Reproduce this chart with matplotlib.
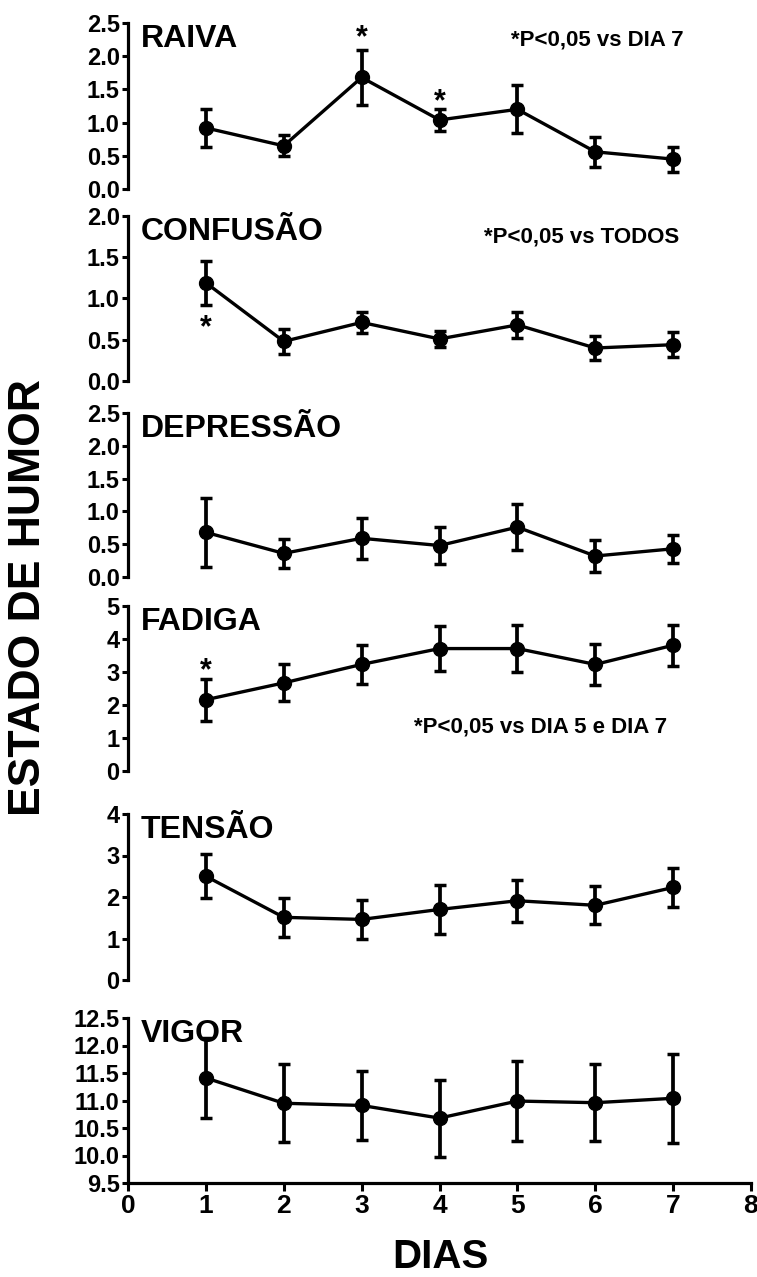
import matplotlib
matplotlib.use('Agg')
import matplotlib.pyplot as plt

plt.rcParams['font.family'] = ['Liberation Sans', 'DejaVu Sans']
plt.rcParams['font.weight'] = 'bold'

days = [1, 2, 3, 4, 5, 6, 7]

raiva = [0.92, 0.65, 1.68, 1.04, 1.20, 0.56, 0.45]
raiva_err = [0.29, 0.16, 0.42, 0.17, 0.36, 0.23, 0.19]
confusao = [1.19, 0.48, 0.71, 0.51, 0.68, 0.40, 0.44]
confusao_err = [0.27, 0.15, 0.13, 0.10, 0.16, 0.15, 0.15]
depressao = [0.68, 0.36, 0.59, 0.48, 0.76, 0.32, 0.43]
depressao_err = [0.53, 0.22, 0.31, 0.28, 0.35, 0.25, 0.21]
fadiga = [2.16, 2.67, 3.23, 3.71, 3.71, 3.23, 3.81]
fadiga_err = [0.63, 0.56, 0.59, 0.68, 0.71, 0.63, 0.62]
tensao = [2.50, 1.51, 1.46, 1.70, 1.91, 1.80, 2.23]
tensao_err = [0.53, 0.47, 0.47, 0.59, 0.51, 0.46, 0.46]
vigor = [11.41, 10.95, 10.91, 10.68, 10.99, 10.96, 11.04]
vigor_err = [0.72, 0.71, 0.63, 0.70, 0.72, 0.70, 0.81]

titles = ['RAIVA', 'CONFUSÃO', 'DEPRESSÃO', 'FADIGA', 'TENSÃO', 'VIGOR']
means = [raiva, confusao, depressao, fadiga, tensao, vigor]
errs = [raiva_err, confusao_err, depressao_err, fadiga_err, tensao_err, vigor_err]
yticks = [
    [0.0, 0.5, 1.0, 1.5, 2.0, 2.5],
    [0.0, 0.5, 1.0, 1.5, 2.0],
    [0.0, 0.5, 1.0, 1.5, 2.0, 2.5],
    [0, 1, 2, 3, 4, 5],
    [0, 1, 2, 3, 4],
    [9.5, 10.0, 10.5, 11.0, 11.5, 12.0, 12.5],
]
ytick_fmt = ['%.1f', '%.1f', '%.1f', '%d', '%d', '%.1f']
xticks = [0, 1, 2, 3, 4, 5, 6, 7, 8]

# significance stars: (panel, day, y)
stars = [(0, 3, 2.40), (0, 4, 1.43), (1, 1, 0.74), (3, 1, 3.30)]

fig = plt.figure(figsize=(7.57, 12.77), dpi=100)

# panel extents in pixels (top, bottom)
panel_px = [(23, 189), (216, 381), (413, 577), (606, 771), (814, 980), (1018, 1183)]
W, H = 757.0, 1277.0
left = 128 / W
width = (751 - 128) / W

axes = []
for i in range(6):
    top, bot = panel_px[i]
    ax = fig.add_axes([left, 1 - bot / H, width, (bot - top) / H])
    axes.append(ax)
    ax.errorbar(days, means[i], yerr=errs[i], color='black', lw=2.4,
                marker='o', ms=10, elinewidth=2.7, capsize=4.6, capthick=2.5,
                clip_on=False, zorder=3)
    ax.set_xlim(0, 8)
    ax.set_ylim(yticks[i][0], yticks[i][-1])
    ax.set_yticks(yticks[i])
    ax.set_yticklabels([ytick_fmt[i] % v for v in yticks[i]])
    for s in ['top', 'right']:
        ax.spines[s].set_visible(False)
    ax.spines['left'].set_linewidth(2.3)
    ax.tick_params(axis='y', direction='out', length=4.5, width=2.2, pad=1.5,
                   labelsize=17)
    ax.patch.set_alpha(0)
    ax.annotate(titles[i], xy=(0, 1), xycoords='axes fraction',
                xytext=(9, -17.5), textcoords='offset points',
                fontsize=23, fontweight='bold', ha='left', va='baseline')
    if i < 5:
        ax.spines['bottom'].set_visible(False)
        ax.set_xticks([])
    else:
        ax.spines['bottom'].set_linewidth(2.3)
        ax.set_xticks(xticks)
        ax.tick_params(axis='x', direction='out', length=6, width=2.2, pad=2,
                       labelsize=19)

for p, d, y in stars:
    axes[p].annotate('*', xy=(d, y), xytext=(0, -12), textcoords='offset points',
                     ha='center', va='baseline', fontsize=22, fontweight='bold')

axes[0].text(6.03, 2.24, '*P<0,05 vs DIA 7', fontsize=16, fontweight='bold',
             ha='center', va='center')
axes[1].text(5.82, 1.75, '*P<0,05 vs TODOS', fontsize=16, fontweight='bold',
             ha='center', va='center')
axes[3].text(5.30, 1.33, '*P<0,05 vs DIA 5 e DIA 7', fontsize=16, fontweight='bold',
             ha='center', va='center')

fig.text(29 / W, 1 - 598 / H, 'ESTADO DE HUMOR', rotation=90, fontsize=32,
         fontweight='bold', ha='center', va='center')
fig.text(440 / W, 1 - 1268 / H, 'DIAS', fontsize=29, fontweight='bold',
         ha='center', va='baseline')

fig.savefig('out.png', dpi=100)
